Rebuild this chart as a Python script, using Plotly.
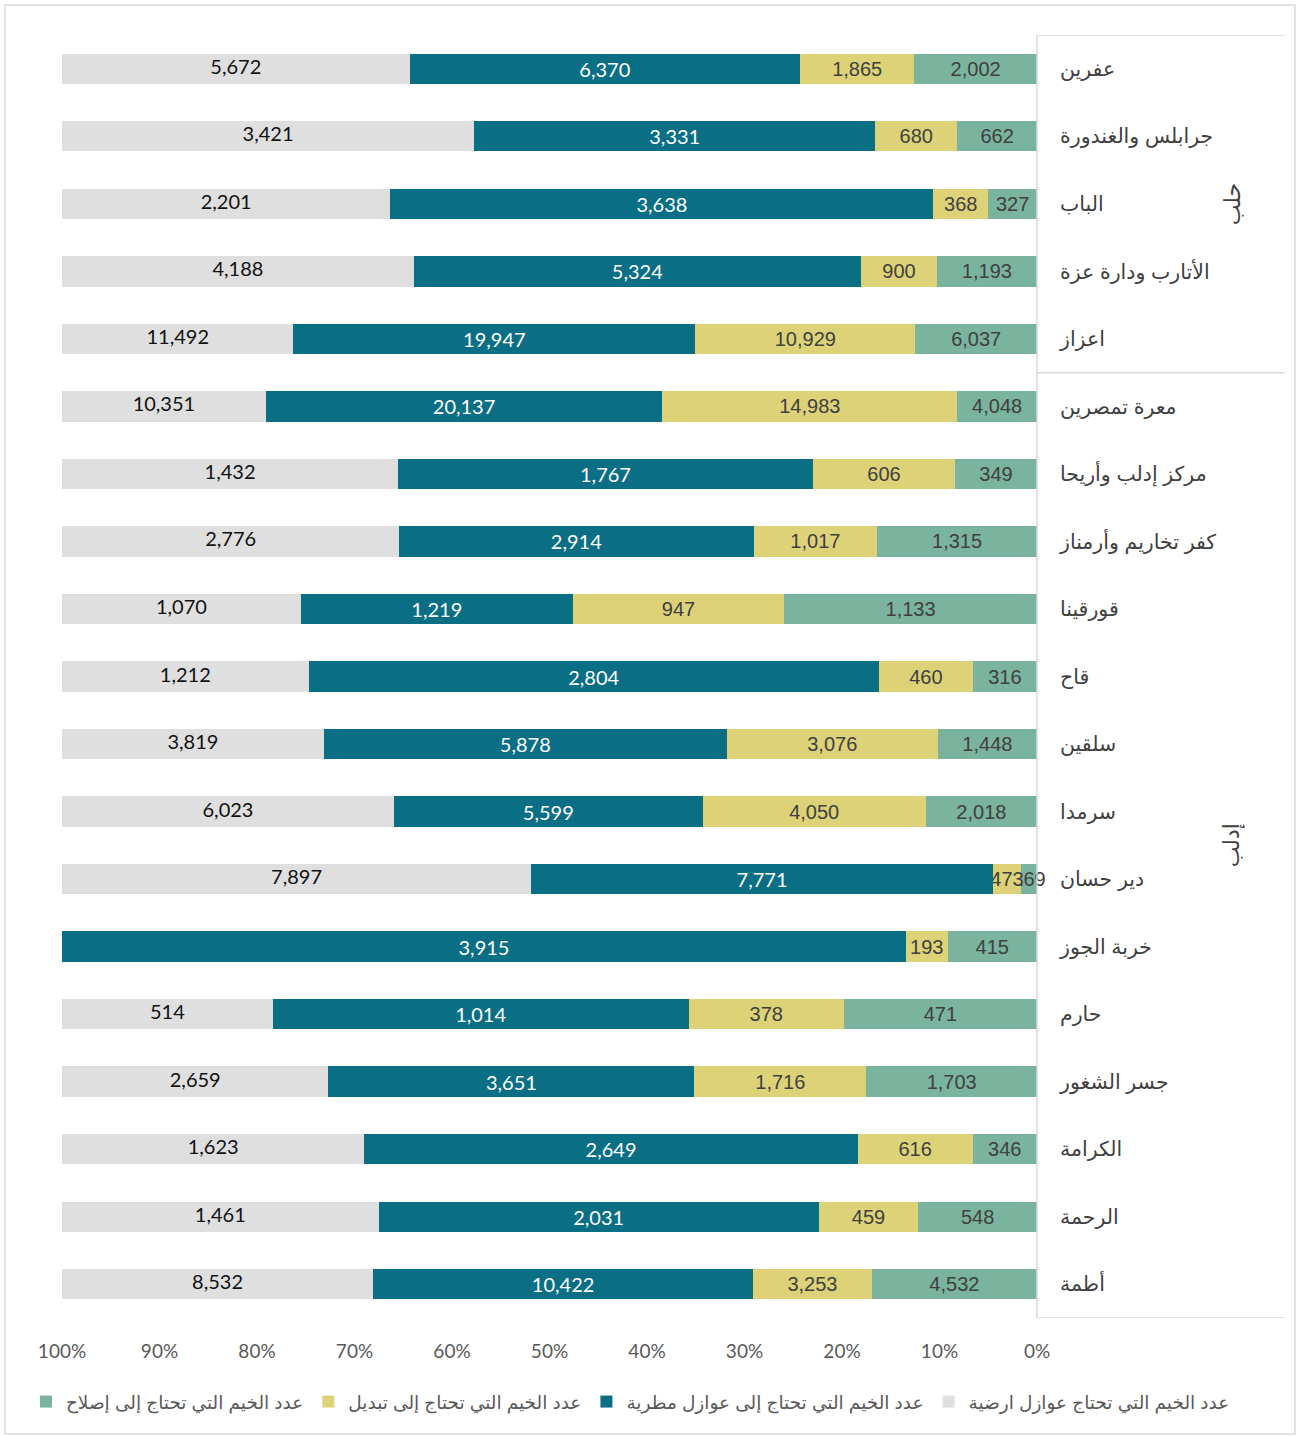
import plotly.graph_objects as go

categories = [
    "عفرين", "جرابلس والغندورة", "الباب", "الأتارب ودارة عزة", "اعزاز",
    "معرة تمصرين", "مركز إدلب وأريحا", "كفر تخاريم وأرمناز", "قورقينا", "قاح",
    "سلقين", "سرمدا", "دير حسان", "خربة الجوز", "حارم", "جسر الشغور",
    "الكرامة", "الرحمة", "أطمة",
]
ground = [5672, 3421, 2201, 4188, 11492, 10351, 1432, 2776, 1070, 1212,
          3819, 6023, 7897, 0, 514, 2659, 1623, 1461, 8532]
rain = [6370, 3331, 3638, 5324, 19947, 20137, 1767, 2914, 1219, 2804,
        5878, 5599, 7771, 3915, 1014, 3651, 2649, 2031, 10422]
replace = [1865, 680, 368, 900, 10929, 14983, 606, 1017, 947, 460,
           3076, 4050, 473, 193, 378, 1716, 616, 459, 3253]
repair = [2002, 662, 327, 1193, 6037, 4048, 349, 1315, 1133, 316,
          1448, 2018, 269, 415, 471, 1703, 346, 548, 4532]

groups = [("حلب", 0, 4), ("إدلب", 5, 18)]
x_ticks = list(range(0, 101, 10))

ARIAL = "Liberation Sans, Arial, sans-serif"
CALIBRI = "Lato, Open Sans, sans-serif"

series = [
    ("عدد الخيم التي تحتاج إلى إصلاح", repair, "#7AB39E", "#404040", ARIAL, True),
    ("عدد الخيم التي تحتاج إلى تبديل", replace, "#DDD277", "#404040", ARIAL, True),
    ("عدد الخيم التي تحتاج إلى عوازل مطرية", rain, "#0A6E85", "#FFFFFF", CALIBRI, True),
    ("عدد الخيم التي تحتاج عوازل ارضية", ground, "#DFDFDF", "#111111", CALIBRI, False),
]

fig = go.Figure()
for name, vals, color, tcolor, tfont, bar_text in series:
    fig.add_trace(go.Bar(
        y=categories, x=vals, name=name, orientation="h",
        marker=dict(color=color, line=dict(width=0)),
        text=[f"{v:,}" if v else "" for v in vals] if bar_text else None,
        textposition="inside" if bar_text else "none",
        insidetextanchor="middle", textangle=0,
        constraintext="none",
        textfont=dict(size=20, color=tcolor, family=tfont),
        cliponaxis=False,
    ))

# labels of the outermost (gray) segment, centred on the segment in percent units
totals = [a + b + c + d for a, b, c, d in zip(ground, rain, replace, repair)]
g_mid = [100 - 50 * g / t for g, t in zip(ground, totals)]
fig.add_trace(go.Scatter(
    x=[m for m, g in zip(g_mid, ground) if g], y=[c for c, g in zip(categories, ground) if g],
    mode="text", text=[f"{g:,}" for g in ground if g],
    textposition="middle center",
    textfont=dict(size=20, color="#111111", family=CALIBRI),
    showlegend=False, hoverinfo="skip", cliponaxis=False,
))

n = len(categories)
fig.update_layout(
    width=1296, height=1436,
    barmode="stack", barnorm="percent", bargap=0.55,
    margin=dict(l=62, r=259, t=35, b=118),
    paper_bgcolor="white", plot_bgcolor="white",
    font=dict(family="Liberation Sans, DejaVu Sans, sans-serif", color="#404040"),
    showlegend=True,
    legend=dict(orientation="h", traceorder="normal",
                x=1.203, xanchor="right",
                y=-0.0655, yanchor="middle",
                font=dict(size=18.5, color="#595959", family="Liberation Sans, DejaVu Sans, sans-serif"),
                itemwidth=30, tracegroupgap=0),
    xaxis=dict(range=[100, 0], tickvals=x_ticks, ticktext=[f"{t}%" for t in x_ticks],
               showgrid=False, zeroline=False, showline=False,
               ticks="outside", ticklen=16, tickcolor="rgba(0,0,0,0)",
               tickfont=dict(size=19, color="#595959", family=CALIBRI)),
    yaxis=dict(side="right", range=[n - 0.5, -0.5], autorange=False,
               categoryorder="array", categoryarray=categories,
               showgrid=False, zeroline=False,
               showline=False, ticks="", ticklabelstandoff=22,
               tickfont=dict(size=20.5, color="#404040")),
)

# category frame lines (multi-level axis look)
line_col = "#D9D9D9"
fig.add_shape(type="line", xref="paper", yref="y", x0=1, x1=1, y0=-0.5, y1=n - 0.5,
              line=dict(color=line_col, width=1.5))
bounds = [-0.5] + [g[2] + 0.5 for g in groups]
for b in bounds:
    fig.add_shape(type="line", xref="paper", yref="y", x0=1, x1=1.254, y0=b, y1=b,
                  line=dict(color=line_col, width=1.5))
for label, s, e in groups:
    fig.add_annotation(text=label, xref="paper", yref="y", x=1.2154, y=(s + e) / 2,
                       textangle=-90, showarrow=False,
                       font=dict(size=22, color="#404040"))

# outer chart border
fig.add_shape(type="rect", xref="paper", yref="paper",
              x0=-0.0585, x1=1.2646, y0=-0.0904, y1=1.0234,
              line=dict(color="#D9D9D9", width=1.5))

fig.write_html("out.html", config={"displayModeBar": False},
               post_script="document.body.style.margin='0';document.body.style.overflow='hidden';")
